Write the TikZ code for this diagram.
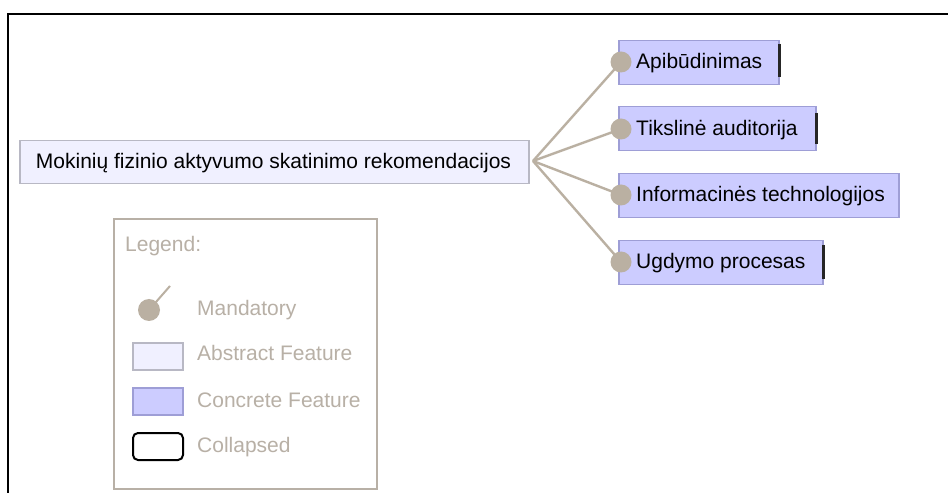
\documentclass[tikz,border=0pt]{standalone}
\usepackage{fontspec}
\setmainfont{Liberation Sans}
\pgfdeclarelayer{paper}
\pgfdeclarelayer{links}
\pgfsetlayers{paper,links,main}
\definecolor{taupe}{RGB}{186,176,162}
\definecolor{legendgray}{RGB}{184,176,166}
\definecolor{concretefill}{RGB}{204,204,255}
\definecolor{concreteedge}{RGB}{158,158,214}
\definecolor{abstractfill}{RGB}{240,240,255}
\definecolor{abstractedge}{RGB}{184,184,196}
\begin{document}
\begin{tikzpicture}[x=1bp,y=-1bp,
  every node/.style={font=\fontsize{21bp}{25bp}\selectfont, inner sep=0pt},
  abstractbox/.style={draw=abstractedge, fill=abstractfill, line width=1.5bp},
  concretebox/.style={draw=concreteedge, fill=concretefill, line width=1.5bp},
  collapsedbar/.style={draw=black!85, line width=2.2bp},
  boxlabel/.style={anchor=base west, text=black},
  mand/.style={circle, fill=taupe, minimum size=21bp},
  conn/.style={draw=taupe, line width=2.4bp},
  legendtext/.style={anchor=base west, text=legendgray},
  swatch/.style={minimum width=50bp, minimum height=27bp, anchor=north west}
]
\useasboundingbox (0,0) rectangle (948,493);
\begin{pgfonlayer}{paper}
  \fill[white] (0,0) rectangle (948,493);
\end{pgfonlayer}

% outer frame (top and left edges)
\draw[line width=2.5bp, black] (948,14) -- (8,14) -- (8,493);

% root feature
\node[abstractbox, minimum width=509bp, minimum height=43bp, anchor=north west] (root) at (19,140) {};
\node[anchor=base, text=black] (roottext) at (273.5,169) {Mokinių fizinio aktyvumo skatinimo rekomendacijos};
\coordinate (hub) at (533,161);

% child feature boxes
\node[concretebox, minimum width=160bp, minimum height=44bp, anchor=north west] (f1) at (618,40) {};
\node[concretebox, minimum width=197bp, minimum height=44bp, anchor=north west] (f2) at (618,106) {};
\node[concretebox, minimum width=280bp, minimum height=44bp, anchor=north west] (f3) at (618,173) {};
\node[concretebox, minimum width=204bp, minimum height=44bp, anchor=north west] (f4) at (618,240) {};

% collapsed markers on the right edges
\draw[collapsedbar] ([yshift=-4bp]f1.north east) -- ([yshift=8bp]f1.south east);
\draw[collapsedbar] ([yshift=-7bp]f2.north east) -- ([yshift=7bp]f2.south east);
\draw[collapsedbar] ([yshift=-5bp]f4.north east) -- ([yshift=6bp]f4.south east);

\node[boxlabel] (f1t) at (636,69) {Apibūdinimas};
\node[boxlabel] (f2t) at (636,136) {Tikslinė auditorija};
\node[boxlabel] (f3t) at (636,202) {Informacinės technologijos};
\node[boxlabel] (f4t) at (636,269) {Ugdymo procesas};

% mandatory markers, linked to the root behind the boxes
\node[mand] (m1) at (621,62) {};
\node[mand] (m2) at (621,129) {};
\node[mand] (m3) at (621,195) {};
\node[mand] (m4) at (621,262) {};
\begin{pgfonlayer}{links}
  \draw[conn] (hub) -- (m1.center);
  \draw[conn] (hub) -- (m2.center);
  \draw[conn] (hub) -- (m3.center);
  \draw[conn] (hub) -- (m4.center);
\end{pgfonlayer}

% legend
\node[draw=legendgray, line width=2bp, minimum width=263bp, minimum height=270bp, anchor=north west] (legend) at (113,218) {};
\node[legendtext] (lgtitle) at (125,252) {Legend:};

\coordinate (lgmandtip) at (170,286);
\node[mand, minimum size=22bp] (lgmand) at (149,310) {};
\begin{pgfonlayer}{links}
  \draw[conn, line width=2bp] (lgmand.center) -- (lgmandtip);
\end{pgfonlayer}
\node[legendtext] (lgmandtext) at (197,316) {Mandatory};

\node[abstractbox, swatch] (lgabs) at (132,342) {};
\node[legendtext] (lgabstext) at (197,361) {Abstract Feature};

\node[concretebox, swatch] (lgcon) at (132,387) {};
\node[legendtext] (lgcontext) at (197,407) {Concrete Feature};

\node[draw=black, line width=2bp, rounded corners=5bp, swatch] (lgcol) at (132,432) {};
\node[legendtext] (lgcoltext) at (197,452) {Collapsed};
\end{tikzpicture}
\end{document}
